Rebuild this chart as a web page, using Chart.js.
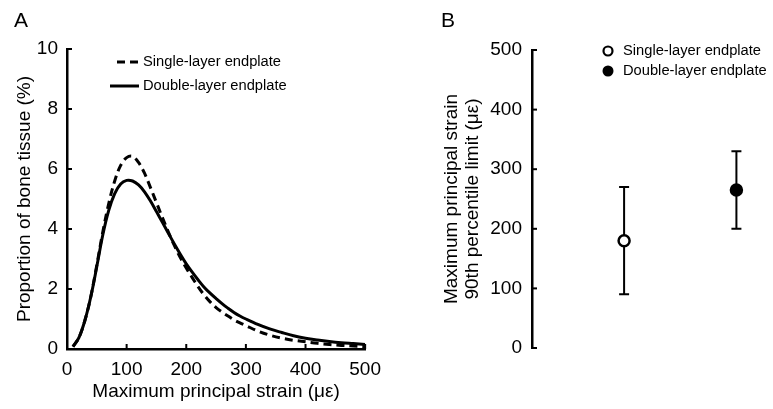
<!DOCTYPE html>
<html>
<head>
<meta charset="utf-8">
<script src="https://cdn.jsdelivr.net/npm/chart.js@4"></script>
<style>
  body { margin: 0; background: #fff; }
  #wrap { position: relative; width: 773px; height: 409px; font-family: 'Liberation Sans', Arial, sans-serif; color: #000; }
  canvas { position: absolute; top: 0; }
  #chartA { left: 0; }
  #chartB { left: 400px; }
  .panel { position: absolute; font-size: 21px; line-height: 1; }
  .leg { position: absolute; font-size: 14.7px; line-height: 1; white-space: nowrap; }
  svg.key { position: absolute; overflow: visible; }
</style>
</head>
<body>
<div id="wrap">
  <canvas id="chartA" width="390" height="409"></canvas>
  <canvas id="chartB" width="373" height="409"></canvas>

  <div class="panel" style="left:14px; top:9px;">A</div>
  <div class="panel" style="left:441px; top:9px;">B</div>

  <!-- legend keys -->
  <svg class="key" style="left:0; top:0;" width="1" height="1">
    <line x1="117" y1="62" x2="139" y2="62" stroke="#000" stroke-width="3" stroke-dasharray="8,5"/>
    <line x1="110" y1="86" x2="139" y2="86" stroke="#000" stroke-width="3"/>
    <circle cx="608" cy="51" r="4.5" fill="#fff" stroke="#000" stroke-width="2.2"/>
    <circle cx="608" cy="71" r="5.5" fill="#000"/>
  </svg>
  <div class="leg" id="legA1" style="left:143px; top:54px;"></div>
  <div class="leg" id="legA2" style="left:143px; top:78px;"></div>
  <div class="leg" id="legB1" style="left:623px; top:43px;"></div>
  <div class="leg" id="legB2" style="left:623px; top:63px;"></div>
</div>
<script>
// Panel A: distribution of maximum principal strain
const strainBins = [10, 20, 30, 40, 50, 60, 70, 80, 90, 100, 110, 120, 130, 140, 150, 160, 170, 180, 190, 200,
    210, 220, 230, 240, 250, 260, 270, 280, 290, 300, 320, 340, 360, 380, 400, 420, 440, 460, 480, 500];
const singleLayer = [0.08, 0.38, 0.95, 1.75, 2.8, 3.9, 4.85, 5.6, 6.12, 6.38, 6.42, 6.22, 5.86, 5.38, 4.88, 4.38, 3.9, 3.45, 3.05, 2.7,
    2.38, 2.07, 1.8, 1.57, 1.38, 1.23, 1.1, 0.97, 0.87, 0.78, 0.6, 0.46, 0.36, 0.29, 0.24, 0.19, 0.15, 0.12, 0.1, 0.08];
const doubleLayer = [0.08, 0.38, 0.95, 1.75, 2.75, 3.8, 4.62, 5.18, 5.5, 5.62, 5.6, 5.47, 5.24, 4.93, 4.58, 4.22, 3.86, 3.5, 3.16, 2.84,
    2.56, 2.3, 2.06, 1.86, 1.68, 1.51, 1.36, 1.22, 1.1, 1.0, 0.82, 0.67, 0.55, 0.44, 0.36, 0.3, 0.25, 0.21, 0.18, 0.15];
const xTicksA = [0, 100, 200, 300, 400, 500];
const yTicksA = [0, 2, 4, 6, 8, 10];

// Panel B: 90th percentile limit, mean with range
const groups = ['Single-layer endplate', 'Double-layer endplate'];
const limitMean = [180, 265];
const limitLow = [90, 200];
const limitHigh = [270, 330];
const yTicksB = [0, 100, 200, 300, 400, 500];

const FONT = "'Liberation Sans', Arial, sans-serif";
Chart.defaults.font.family = FONT;
Chart.defaults.color = '#000';

document.getElementById('legA1').textContent = groups[0];
document.getElementById('legA2').textContent = groups[1];
document.getElementById('legB1').textContent = groups[0];
document.getElementById('legB2').textContent = groups[1];

// small tick marks pointing into the plot
const inwardTicks = {
    id: 'inwardTicks',
    afterDraw(chart) {
        const ctx = chart.ctx;
        ctx.save();
        ctx.strokeStyle = '#000';
        ctx.lineWidth = 2;
        Object.values(chart.scales).forEach(scale => {
            if (!scale.options.display) return;
            scale.ticks.forEach((t, i) => {
                const p = scale.getPixelForTick(i);
                ctx.beginPath();
                if (scale.isHorizontal()) {
                    ctx.moveTo(p, scale.top);
                    ctx.lineTo(p, scale.top - 5);
                } else {
                    ctx.moveTo(scale.right, p);
                    ctx.lineTo(scale.right + 5, p);
                }
                ctx.stroke();
            });
        });
        ctx.restore();
    }
};

// vertical range bars for panel B
const rangeBars = {
    id: 'rangeBars',
    beforeDatasetsDraw(chart) {
        const ctx = chart.ctx;
        const xs = chart.scales.x, ys = chart.scales.y;
        ctx.save();
        ctx.strokeStyle = '#000';
        ctx.lineWidth = 2;
        groups.forEach((g, i) => {
            const x = xs.getPixelForValue(i + 1);
            const lo = ys.getPixelForValue(limitLow[i]);
            const hi = ys.getPixelForValue(limitHigh[i]);
            ctx.beginPath();
            ctx.moveTo(x, lo); ctx.lineTo(x, hi);
            ctx.moveTo(x - 5, lo); ctx.lineTo(x + 5, lo);
            ctx.moveTo(x - 5, hi); ctx.lineTo(x + 5, hi);
            ctx.stroke();
        });
        ctx.restore();
    }
};

const tickFont = { size: 19 };
const titleFont = { size: 19, lineHeight: 1.1 };

new Chart(document.getElementById('chartA'), {
    type: 'line',
    data: {
        datasets: [{
            label: groups[0],
            data: strainBins.map((v, i) => ({ x: v, y: singleLayer[i] })),
            borderColor: '#000',
            borderWidth: 3,
            borderDash: [8, 5],
            pointRadius: 0,
            tension: 0.35
        }, {
            label: groups[1],
            data: strainBins.map((v, i) => ({ x: v, y: doubleLayer[i] })),
            borderColor: '#000',
            borderWidth: 3,
            pointRadius: 0,
            tension: 0.35
        }]
    },
    options: {
        responsive: false,
        animation: false,
        layout: { padding: { left: 0, top: 49, right: 24, bottom: 0 } },
        plugins: { legend: { display: false }, tooltip: { enabled: false } },
        scales: {
            x: {
                type: 'linear', min: 0, max: 500,
                afterBuildTicks: s => { s.ticks = xTicksA.map(v => ({ value: v })); },
                afterFit: s => { s.height = 60; },
                grid: { display: false, drawTicks: false },
                border: { color: '#000', width: 2.5 },
                ticks: { font: tickFont, padding: 9, maxRotation: 0 },
                title: { display: true, text: 'Maximum principal strain (\u03bc\u03b5)', font: titleFont, padding: { top: 0, bottom: 7 } }
            },
            y: {
                min: 0, max: 10,
                afterBuildTicks: s => { s.ticks = yTicksA.map(v => ({ value: v })); },
                afterFit: s => { s.width = 67; },
                grid: { display: false, drawTicks: false },
                border: { color: '#000', width: 2.5 },
                ticks: { font: tickFont, padding: 9 },
                title: { display: true, text: 'Proportion of bone tissue (%)', font: titleFont, padding: { top: 14, bottom: 0 } }
            }
        }
    },
    plugins: [inwardTicks]
});

new Chart(document.getElementById('chartB'), {
    type: 'scatter',
    data: {
        datasets: groups.map((g, i) => ({
            label: g,
            data: [{ x: i + 1, y: limitMean[i] }],
            pointRadius: 5.5,
            pointBorderWidth: 2.5,
            pointBorderColor: '#000',
            pointBackgroundColor: i === 0 ? '#fff' : '#000'
        }))
    },
    options: {
        responsive: false,
        animation: false,
        layout: { padding: { left: 0, top: 50, right: 13, bottom: 61 } },
        plugins: { legend: { display: false }, tooltip: { enabled: false } },
        scales: {
            x: { type: 'linear', min: 0.18, max: 2.21, display: false },
            y: {
                min: 0, max: 500,
                afterBuildTicks: s => { s.ticks = yTicksB.map(v => ({ value: v })); },
                afterFit: s => { s.width = 132; },
                grid: { display: false, drawTicks: false },
                border: { color: '#000', width: 2.5 },
                ticks: { font: tickFont, padding: 10 },
                title: {
                    display: true,
                    text: ['Maximum principal strain', '90th percentile limit (\u03bc\u03b5)'],
                    font: titleFont,
                    padding: { top: 41, bottom: 0 }
                }
            }
        }
    },
    plugins: [inwardTicks, rangeBars]
});
</script>
</body>
</html>
